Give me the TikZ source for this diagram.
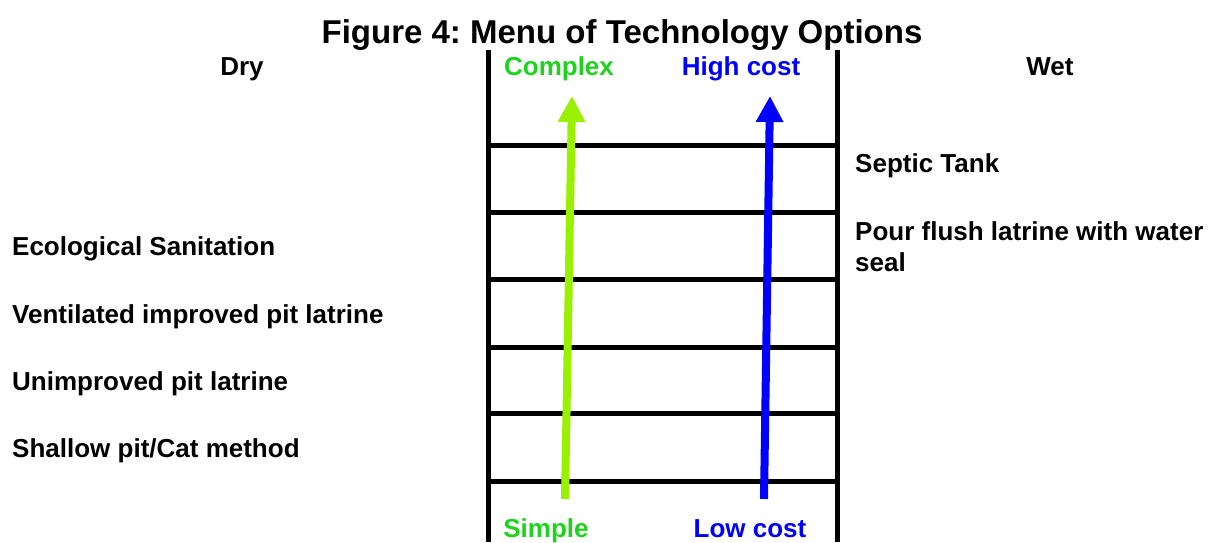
\documentclass[tikz,border=0pt]{standalone}
\usepackage{fontspec}
\setmainfont{Liberation Sans}
\usetikzlibrary{arrows.meta}
\frenchspacing

\definecolor{limegreen}{RGB}{153,240,0}
\definecolor{labelgreen}{RGB}{30,210,30}
\definecolor{pureblue}{RGB}{0,0,255}

\tikzset{
  item/.style={anchor=base west,inner sep=0pt,font=\fontsize{26}{30}\selectfont\bfseries},
  head/.style={anchor=base,inner sep=0pt,font=\fontsize{26}{30}\selectfont\bfseries},
  rung/.style={line width=5pt},
  rail/.style={line width=5pt},
  scale arrow/.style={line width=8pt,-{Triangle[width=26pt,length=26pt]}}
}

\begin{document}
\begin{tikzpicture}[x=1pt,y=-1pt]
\useasboundingbox (0,0) rectangle (1210,542);
% ladder
\coordinate (LT) at (488,50); \coordinate (LB) at (488,542);
\coordinate (RT) at (837,50); \coordinate (RB) at (837,542);
\draw[rail] (LT)--(LB);
\draw[rail] (RT)--(RB);
\foreach \y in {145,212,279,347,413,481}
  \draw[rung] (488,\y)--(837,\y);
% arrows
\coordinate (simplefoot) at (565,499); \coordinate (complextip) at (572,96);
\coordinate (lowfoot) at (764,499); \coordinate (hightip) at (770,96);
\draw[scale arrow,limegreen] (simplefoot)--(complextip);
\draw[scale arrow,pureblue] (lowfoot)--(hightip);
% titles
\node[head,font=\fontsize{33}{38}\selectfont\bfseries] (title) at (622,43) {Figure 4: Menu of Technology Options};
\node[head] (dry) at (242,75) {Dry};
\node[head] (wet) at (1050,75) {Wet};
\node[head,labelgreen] (complex) at (559,75) {Complex};
\node[head,pureblue] (highcost) at (741,75) {High cost};
\node[head,labelgreen] (simple) at (546,537) {Simple};
\node[head,pureblue] (lowcost) at (750,537) {Low cost};
% dry options
\node[item] (ecosan) at (12,255) {Ecological Sanitation};
\node[item] (vip) at (12,323) {Ventilated improved pit latrine};
\node[item] (unimproved) at (12,390) {Unimproved pit latrine};
\node[item] (shallow) at (12,457) {Shallow pit/Cat method};
% wet options
\node[item] (septic) at (855,172) {Septic Tank};
\node[item] (pourflush) at (855,240) {Pour flush latrine with water};
\node[item] (seal) at (855,271) {seal};
\end{tikzpicture}
\end{document}
